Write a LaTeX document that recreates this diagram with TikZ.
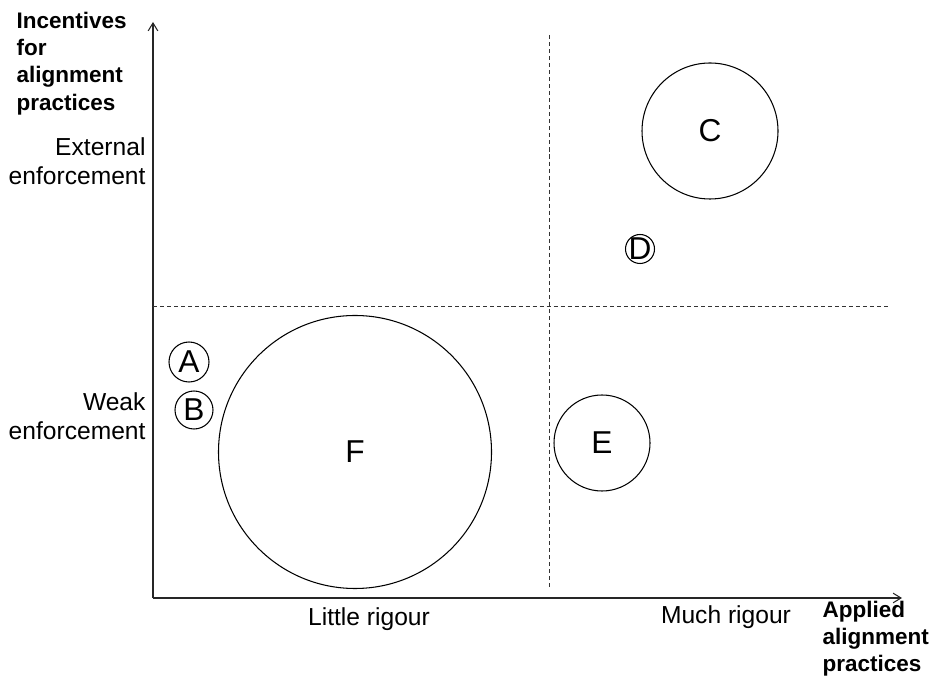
\documentclass[tikz,border=0pt]{standalone}
\usepackage{fontspec}
\setmainfont{Liberation Sans}
\usetikzlibrary{positioning,arrows.meta}

\begin{document}
\begin{tikzpicture}[
    line width=0.6pt,
    axis/.style={draw=black!85, -{Straight Barb[length=4.5pt,width=5.5pt]}},
    divider/.style={draw=black!80, line width=0.5pt, dash pattern=on 2.3pt off 1.7pt},
    bubble/.style={draw, circle, inner sep=0pt, font=\fontsize{18}{20}\selectfont},
    scalelabel/.style={inner sep=0pt, font=\fontsize{14}{16.5}\selectfont},
    axislabel/.style={inner sep=0pt, align=left, font=\fontsize{12.8}{15.4}\selectfont\bfseries}
]
    % Frame
    \useasboundingbox (0,0) rectangle (18.74,13.54);

    % Axes
    \coordinate (O) at (3.06,1.58);
    \coordinate (ytip) at (3.06,13.10);
    \coordinate (xtip) at (18.04,1.58);
    \draw[axis] (O) -- (ytip);
    \draw[axis] (O) -- (xtip);

    % Quadrant lines
    \coordinate (hleft) at (3.06,7.42);
    \coordinate (hright) at (17.76,7.42);
    \coordinate (vtop) at (10.98,12.84);
    \coordinate (vbot) at (10.98,1.78);
    \draw[divider] (hleft) -- (hright);
    \draw[divider] (vtop) -- (vbot);

    % Axis titles
    \node[axislabel, anchor=north west] (ytitle) at (0.32,13.30)
        {Incentives\\for\\alignment\\practices};
    \node[axislabel, anchor=north west] (xtitle) at (16.44,1.52)
        {Applied\\alignment\\practices};

    % Scale labels
    \node[scalelabel, anchor=north east, align=right] (external) at (2.92,10.80)
        {External\\enforcement};
    \node[scalelabel, anchor=north east, align=right] (weak) at (2.92,5.70)
        {Weak\\enforcement};
    \node[scalelabel, anchor=north] (little) at (7.38,1.40) {Little rigour};
    \node[scalelabel, anchor=north] (much) at (14.52,1.44) {Much rigour};

    % Cases
    \node[bubble, minimum size=2.72cm] (C) at (14.20,10.92) {C};
    \node[bubble, minimum size=0.58cm, inner sep=-0.9pt] (D) at (12.80,8.56) {D};
    \node[bubble, minimum size=0.80cm] (A) at (3.78,6.30) {A};
    \node[bubble, minimum size=0.76cm] (B) at (3.88,5.34) {B};
    \node[bubble, minimum size=5.46cm] (F) at (7.10,4.50) {F};
    \node[bubble, minimum size=1.92cm] (E) at (12.04,4.68) {E};
\end{tikzpicture}
\end{document}
